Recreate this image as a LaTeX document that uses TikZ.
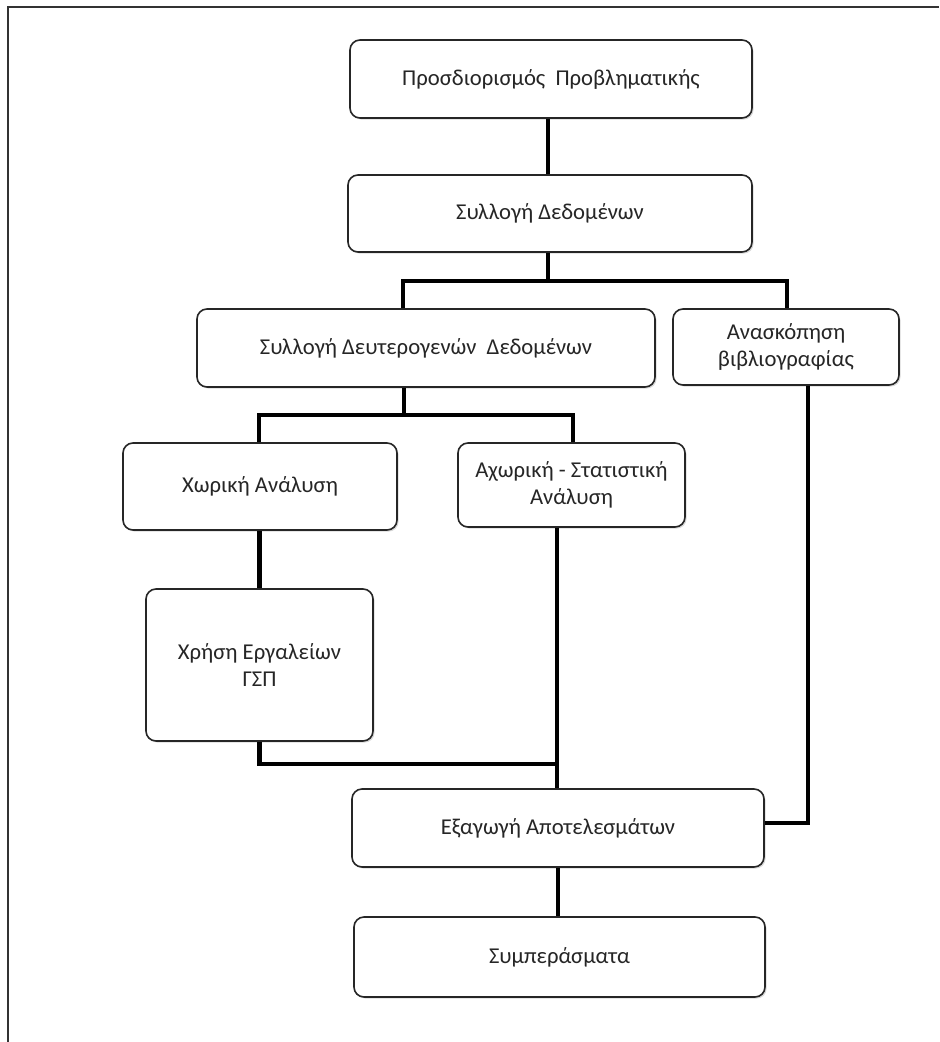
\documentclass[tikz,border=0pt]{standalone}
\usepackage{fontspec}
\setmainfont{Carlito}
\usetikzlibrary{shadows}

\begin{document}
\begin{tikzpicture}[x=0.75pt,y=-0.75pt,
  stage/.style={draw=black!85,line width=1.2pt,rounded corners=7.5pt,fill=white,
    align=center,inner sep=0pt,text=black!85,font=\fontsize{17}{20.5}\selectfont,
    drop shadow={shadow xshift=1.2pt,shadow yshift=-1.2pt,opacity=0.3}},
  link/.style={line width=3.2pt}]
\useasboundingbox (0,0) rectangle (939,1042);
\draw[line width=1.5pt,black!80] (8,1042) -- (8,7) -- (939,7);

\node[stage,minimum width=301.5pt,minimum height=58.5pt] (prob) at (551,79) {Προσδιορισμός\ \ Προβληματικής};
\node[stage,minimum width=303pt,minimum height=57.75pt] (data) at (550,213.5) {Συλλογή Δεδομένων};
\node[stage,minimum width=343.5pt,minimum height=58.5pt] (second) at (426,348) {Συλλογή Δευτερογενών\ \ Δεδομένων};
\node[stage,minimum width=169.5pt,minimum height=57pt] (review) at (786,347) {Ανασκόπηση\\βιβλιογραφίας};
\node[stage,minimum width=205.5pt,minimum height=65.25pt] (spatial) at (260,486.5) {Χωρική Ανάλυση};
\node[stage,minimum width=170.25pt,minimum height=63pt] (aspatial) at (571.5,485) {Αχωρική - Στατιστική\\Ανάλυση};
\node[stage,minimum width=170.25pt,minimum height=114pt] (gis) at (259.5,665) {Χρήση Εργαλείων\\ΓΣΠ};
\node[stage,minimum width=309pt,minimum height=58.5pt] (results) at (558,828) {Εξαγωγή Αποτελεσμάτων};
\node[stage,minimum width=308.25pt,minimum height=60pt] (concl) at (559.5,957) {Συμπεράσματα};

\coordinate (split1) at (548,281);
\coordinate (l1) at (403,281);
\coordinate (r1) at (787,281);
\coordinate (split2) at (404,415);
\coordinate (l2) at (259,415);
\coordinate (r2) at (573,415);
\coordinate (merge) at (557,764);
\coordinate (rev) at (808,823);

\draw[link] (prob.south -| split1) -- (data.north -| split1);
\draw[link] (data.south -| split1) -- (split1);
\draw[link] (second.north -| l1) -- (l1) -- (r1) -- (review.north -| r1);
\draw[link] (second.south -| split2) -- (split2);
\draw[link] (spatial.north -| l2) -- (l2) -- (r2) -- (aspatial.north -| r2);
\draw[link] (spatial.south -| gis.north) -- (gis.north);
\draw[link] (gis.south) |- (merge);
\draw[link] (aspatial.south -| merge) -- (results.north -| merge);
\draw[link] (review.south -| rev) -- (rev) -- (results.east |- rev);
\draw[link] (results.south) -- (results.south |- concl.north);
\end{tikzpicture}
\end{document}
